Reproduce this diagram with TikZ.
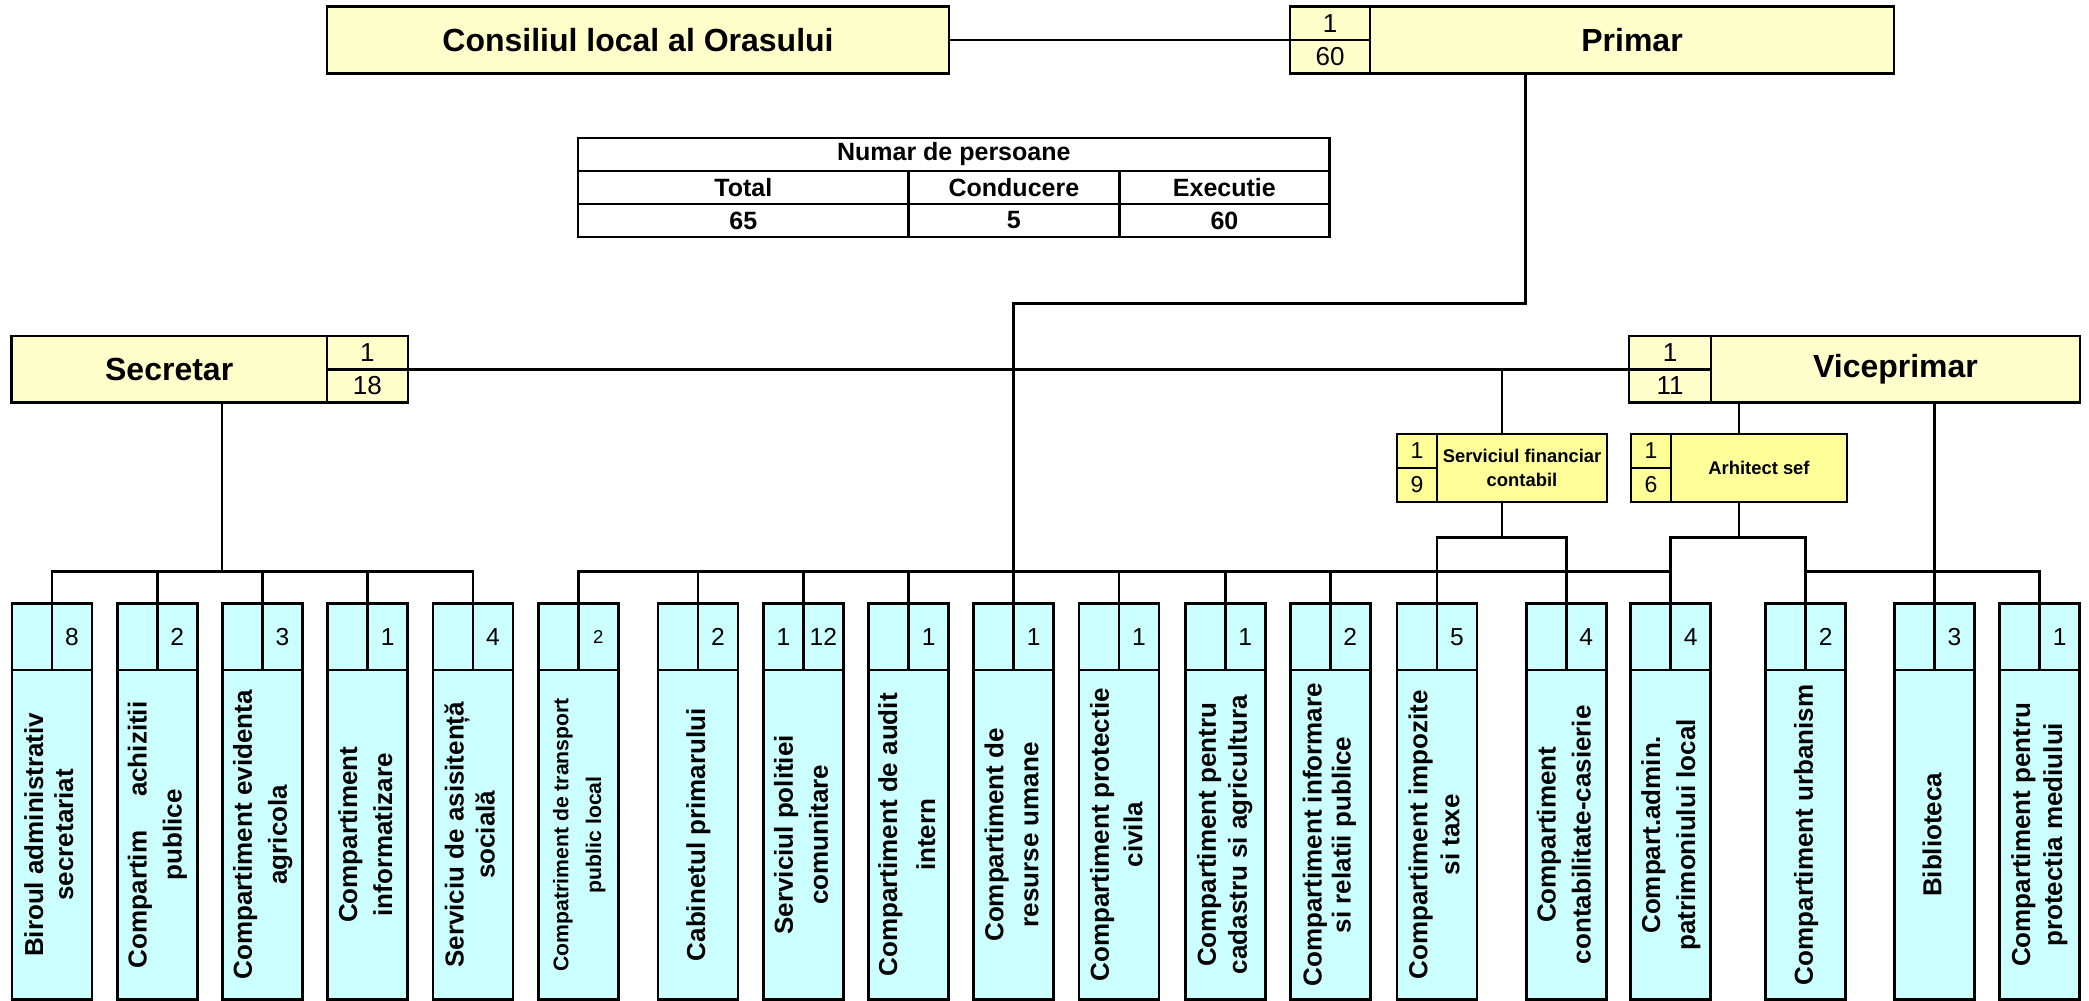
\documentclass[tikz,border=0pt]{standalone}
\usepackage{fontspec}
\setmainfont{Liberation Sans}
\usetikzlibrary{positioning,calc}
\definecolor{topyellow}{HTML}{FFFFCC}
\definecolor{subyellow}{HTML}{FFFF99}
\definecolor{unitcyan}{HTML}{CCFFFF}
\newcommand{\vtext}[1]{\rotatebox{90}{\begin{tabular}{@{}c@{}}#1\end{tabular}}}
\tikzset{
    raw cell/.style={rectangle, draw, line width=1.4pt, inner sep=0pt, outer sep=0pt, align=center},
    top box/.style={raw cell, fill=topyellow, minimum height=33.2pt, font=\fontsize{16}{19}\selectfont\bfseries},
    top num/.style={raw cell, fill=topyellow, minimum width=40.5pt, minimum height=16.6pt, font=\fontsize{13}{15}\selectfont},
    sub box/.style={raw cell, fill=subyellow, minimum height=34pt, font=\fontsize{9.2}{11.7}\selectfont\bfseries},
    sub num/.style={raw cell, fill=subyellow, minimum width=20pt, minimum height=17pt, font=\fontsize{11.5}{13}\selectfont},
    unit box/.style={raw cell, fill=unitcyan, minimum width=40pt, minimum height=164.8pt, font=\fontsize{13}{17.5}\selectfont\bfseries},
    unit num/.style={raw cell, fill=unitcyan, minimum width=20pt, minimum height=33.2pt, font=\fontsize{12.3}{14}\selectfont},
    table cell/.style={raw cell, fill=white, minimum height=16.5pt, font=\fontsize{12.5}{14}\selectfont\bfseries},
    link/.style={line width=1.4pt}
}

\begin{document}
\begin{tikzpicture}[x=1pt,y=1pt]
\useasboundingbox (0,0) rectangle (1044.5,-500.5);
% top row
\node[top box, minimum width=311pt] (consiliu) at (319,-20) {Consiliul local al Orasului};
\node[top box, minimum width=262pt] (primar) at (816,-20) {Primar};
\node[top num, above left=0pt of primar.west, minimum width=40pt] (primarN1) {1};
\node[top num, below left=0pt of primar.west, minimum width=40pt] (primarN2) {60};
% staff table
\node[table cell, minimum width=375.8pt] (numar) at (476.9,-77.25) {Numar de persoane};
\node[table cell, minimum width=165.3pt] (total) at (371.65,-93.75) {Total};
\node[table cell, minimum width=105.3pt, right=0pt of total] (conducere) {Conducere};
\node[table cell, minimum width=105.2pt, right=0pt of conducere] (executie) {Executie};
\node[table cell, minimum width=165.3pt, below=0pt of total] (totalV) {65};
\node[table cell, minimum width=105.3pt, below=0pt of conducere] (conducereV) {5};
\node[table cell, minimum width=105.2pt, below=0pt of executie] (executieV) {60};
% second row
\node[top box, minimum width=157.75pt] (secretar) at (84.6,-184.6) {Secretar};
\node[top num, above right=0pt of secretar.east] (secretarN1) {1};
\node[top num, below right=0pt of secretar.east] (secretarN2) {18};
\node[top box, minimum width=184.5pt] (vice) at (947.75,-184.6) {Viceprimar};
\node[top num, above left=0pt of vice.west, minimum width=41pt] (viceN1) {1};
\node[top num, below left=0pt of vice.west, minimum width=41pt] (viceN2) {11};
\node[sub box, minimum width=85pt] (financiar) at (761,-234) {Serviciul financiar\\contabil};
\node[sub num, above left=0pt of financiar.west] (financiarN1) {1};
\node[sub num, below left=0pt of financiar.west] (financiarN2) {9};
\node[sub box, minimum width=88pt] (arhitect) at (879.5,-234) {Arhitect sef};
\node[sub num, above left=0pt of arhitect.west] (arhitectN1) {1};
\node[sub num, below left=0pt of arhitect.west] (arhitectN2) {6};
% compartments
\node[unit box, font=\fontsize{13}{15}\selectfont\bfseries] (biroul) at (26,-417.4) {\vtext{Biroul administrativ\\secretariat}};
\node[unit num, above left=0pt of biroul.north] (biroulL) {};
\node[unit num, above right=0pt of biroul.north] (biroulR) {8};
\node[unit box] (achiz) at (78.6,-417.4) {\vtext{Compartim\hspace{1.3em}achizitii\\publice}};
\node[unit num, above left=0pt of achiz.north] (achizL) {};
\node[unit num, above right=0pt of achiz.north] (achizR) {2};
\node[unit box] (evid) at (131.2,-417.4) {\vtext{Compartiment evidenta\\agricola}};
\node[unit num, above left=0pt of evid.north] (evidL) {};
\node[unit num, above right=0pt of evid.north] (evidR) {3};
\node[unit box] (inform) at (183.8,-417.4) {\vtext{Compartiment\\informatizare}};
\node[unit num, above left=0pt of inform.north] (informL) {};
\node[unit num, above right=0pt of inform.north] (informR) {1};
\node[unit box, font=\fontsize{13}{15.5}\selectfont\bfseries] (asist) at (236.5,-417.4) {\vtext{Serviciu de asisitență\\socială}};
\node[unit num, above left=0pt of asist.north] (asistL) {};
\node[unit num, above right=0pt of asist.north] (asistR) {4};
\node[unit box, font=\fontsize{10.6}{16.3}\selectfont\bfseries] (transp) at (289.1,-417.4) {\vtext{Compatriment de transport\\public local}};
\node[unit num, above left=0pt of transp.north] (transpL) {};
\node[unit num, above right=0pt of transp.north, font=\fontsize{9.3}{11}\selectfont] (transpR) {2};
\node[unit box] (cabinet) at (349,-417.4) {\vtext{Cabinetul primarului}};
\node[unit num, above left=0pt of cabinet.north] (cabinetL) {};
\node[unit num, above right=0pt of cabinet.north] (cabinetR) {2};
\node[unit box] (politia) at (401.7,-417.4) {\vtext{Serviciul politiei\\comunitare}};
\node[unit num, above left=0pt of politia.north] (politiaL) {1};
\node[unit num, above right=0pt of politia.north] (politiaR) {12};
\node[unit box, font=\fontsize{13}{19}\selectfont\bfseries] (audit) at (454.3,-417.4) {\vtext{Compartiment de audit\\intern}};
\node[unit num, above left=0pt of audit.north] (auditL) {};
\node[unit num, above right=0pt of audit.north] (auditR) {1};
\node[unit box] (resurse) at (506.9,-417.4) {\vtext{Compartiment de\\resurse umane}};
\node[unit num, above left=0pt of resurse.north] (resurseL) {};
\node[unit num, above right=0pt of resurse.north] (resurseR) {1};
\node[unit box, font=\fontsize{13}{16.7}\selectfont\bfseries] (protectie) at (559.5,-417.4) {\vtext{Compartiment protectie\\civila}};
\node[unit num, above left=0pt of protectie.north] (protectieL) {};
\node[unit num, above right=0pt of protectie.north] (protectieR) {1};
\node[unit box, font=\fontsize{13}{15.4}\selectfont\bfseries] (cadastru) at (612.6,-417.4) {\vtext{Compartiment pentru\\cadastru si agricultura}};
\node[unit num, above left=0pt of cadastru.north] (cadastruL) {};
\node[unit num, above right=0pt of cadastru.north] (cadastruR) {1};
\node[unit box, font=\fontsize{13}{14.5}\selectfont\bfseries] (relatii) at (665.1,-417.4) {\vtext{Compartiment informare\\si relatii publice}};
\node[unit num, above left=0pt of relatii.north] (relatiiL) {};
\node[unit num, above right=0pt of relatii.north] (relatiiR) {2};
\node[unit box, font=\fontsize{13}{16}\selectfont\bfseries] (impoz) at (718.5,-417.4) {\vtext{Compartiment impozite\\si taxe}};
\node[unit num, above left=0pt of impoz.north] (impozL) {};
\node[unit num, above right=0pt of impoz.north] (impozR) {5};
\node[unit box] (casier) at (783.1,-417.4) {\vtext{Compartiment\\contabilitate-casierie}};
\node[unit num, above left=0pt of casier.north] (casierL) {};
\node[unit num, above right=0pt of casier.north] (casierR) {4};
\node[unit box] (patrim) at (835.3,-417.4) {\vtext{Compart.admin.\\patrimoniului local}};
\node[unit num, above left=0pt of patrim.north] (patrimL) {};
\node[unit num, above right=0pt of patrim.north] (patrimR) {4};
\node[unit box] (urban) at (902.9,-417.4) {\vtext{Compartiment urbanism}};
\node[unit num, above left=0pt of urban.north] (urbanL) {};
\node[unit num, above right=0pt of urban.north] (urbanR) {2};
\node[unit box] (biblio) at (967.2,-417.4) {\vtext{Biblioteca}};
\node[unit num, above left=0pt of biblio.north] (biblioL) {};
\node[unit num, above right=0pt of biblio.north] (biblioR) {3};
\node[unit box, font=\fontsize{13}{16}\selectfont\bfseries] (mediu) at (1019.8,-417.4) {\vtext{Compartiment pentru\\protectia mediului}};
\node[unit num, above left=0pt of mediu.north] (mediuL) {};
\node[unit num, above right=0pt of mediu.north] (mediuR) {1};
% connectors
\coordinate (busY) at (0,-285.8);
\draw[link] (consiliu.east) -- (primarN1.south west);
\coordinate (primarDrop) at ($(primar.south)+(-53.2,0)$);
\draw[link] (primarDrop) -- ++(0,-115.3) -| (resurseR.north west);
\draw[link] (secretarN1.south east) -- (viceN1.south west);
% secretar group
\coordinate (secretarDrop) at ($(secretar.south)+(26.4,0)$);
\draw[link] (secretarDrop) -- (secretarDrop |- busY);
\draw[link] (biroulR.north west) |- (asistR.north west |- busY) -- (asistR.north west);
\draw[link] (achizR.north west) -- (achizR.north west |- busY);
\draw[link] (evidR.north west) -- (evidR.north west |- busY);
\draw[link] (informR.north west) -- (informR.north west |- busY);
% primar group
\draw[link] (transpR.north west) |- (patrimR.north west |- busY);
\draw[link] (cabinetR.north west) -- (cabinetR.north west |- busY);
\draw[link] (politiaR.north west) -- (politiaR.north west |- busY);
\draw[link] (auditR.north west) -- (auditR.north west |- busY);
\draw[link] (protectieR.north west) -- (protectieR.north west |- busY);
\draw[link] (cadastruR.north west) -- (cadastruR.north west |- busY);
\draw[link] (relatiiR.north west) -- (relatiiR.north west |- busY);
% financiar
\coordinate (financiarMid) at ($(financiarN1.west)!0.5!(financiar.east)$);
\draw[link] (financiarMid |- secretarN1.south east) -- (financiarMid |- financiar.north);
\draw[link] (financiarMid |- financiar.south) -- ++(0,-17.9) coordinate (financiarBr);
\draw[link] (impozR.north west) |- (financiarBr) -| (casierR.north west);
% arhitect
\coordinate (arhitectMid) at ($(arhitectN1.west)!0.5!(arhitect.east)$);
\draw[link] (arhitectMid |- vice.south) -- (arhitectMid |- arhitect.north);
\draw[link] (arhitectMid |- arhitect.south) -- ++(0,-17.9) coordinate (arhitectBr);
\draw[link] (patrimR.north west) |- (arhitectBr) -| (urbanR.north west);
% viceprimar
\draw[link] (biblioR.north west |- vice.south) -- (biblioR.north west);
\draw[link] (urbanR.north west |- busY) -| (mediuR.north west);
\end{tikzpicture}
\end{document}
